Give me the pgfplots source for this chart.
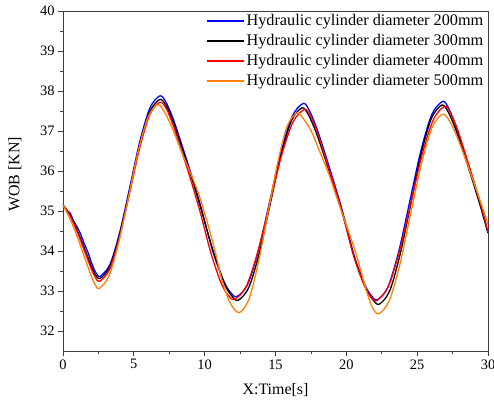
\documentclass[border=0pt]{standalone}
\usepackage{pgfplots}
\pgfplotsset{compat=1.18}
\usepackage{fontspec}
\setmainfont{Liberation Serif}
\definecolor{corange}{RGB}{255,128,0}
\definecolor{axgray}{RGB}{60,60,60}
\begin{document}
\begin{tikzpicture}
\begin{axis}[
  scale only axis,
  width=425bp, height=340bp,
  xmin=0, xmax=30, ymin=31.5, ymax=40,
  xtick={0,5,...,30}, ytick={32,33,...,40},
  minor x tick num=1, minor y tick num=1,
  tick align=outside,
  xtick pos=bottom, ytick pos=left,
  major tick length=5bp, minor tick length=3bp,
  axis line style={axgray, line width=0.9pt},
  every tick/.style={axgray, line width=0.7pt},
  /pgf/number format/assume math mode=true,
  tick label style={font=\fontsize{14.5}{16}\selectfont},
  xlabel={X:Time[s]}, ylabel={WOB [KN]},
  label style={font=\fontsize{16}{18}\selectfont},
  xlabel style={at={(axis description cs:0.5,-0.115)}, anchor=center},
  ylabel style={at={(axis description cs:-0.113,0.52)}, anchor=center, rotate=0},
  legend style={at={(1,1)}, anchor=north east, draw=none, fill=none,
    font=\fontsize{16.3}{18}\selectfont, row sep=4.2bp,
    nodes={inner sep=1.5bp}},
  legend cell align=left,
  legend image code/.code={\draw[#1, line width=1.7pt, sharp plot] (0bp,0bp) -- (37bp,0bp);},
  every axis plot/.append style={line width=1.3pt, smooth, no marks},
]
\coordinate (sw) at (rel axis cs:0,0);
\addplot[blue] coordinates {
(0,35.15)(0.25,35.02)(0.5,34.95)(0.75,34.75)(1.0,34.6)(1.25,34.42)(1.5,34.18)(1.75,33.98)(2.0,33.72)(2.25,33.5)(2.4,33.42)(2.6,33.36)
(3.31,33.66)(4.02,34.49)(4.73,35.62)(5.43,36.75)(6.14,37.58)(6.85,37.88)
(7.3,37.7)(7.8,37.28)(8.3,36.75)(9.0,35.98)(9.7,35.15)(10.54,34.03)(11.31,33.28)(11.79,32.98)(12.26,32.86)
(13.04,33.17)(13.83,34.06)(14.61,35.27)(15.39,36.48)(16.18,37.37)(16.96,37.69)
(17.39,37.51)(17.88,37.10)(18.36,36.59)(19.03,35.83)(19.71,35.02)(20.52,33.92)(21.26,33.19)(21.73,32.90)(22.18,32.78)
(22.95,33.11)(23.72,34.02)(24.49,35.26)(25.26,36.50)(26.03,37.41)(26.8,37.74)
(27.23,37.56)(27.72,37.14)(28.19,36.62)(28.86,35.87)(29.54,35.04)(30,34.45)
};
\addlegendentry{Hydraulic cylinder diameter 200mm}
\addplot[black] coordinates {
(0,35.15)(0.5,34.9)(1.0,34.52)(1.5,34.08)(2.0,33.62)(2.3,33.4)(2.6,33.31)
(3.31,33.61)(4.02,34.43)(4.73,35.55)(5.43,36.67)(6.14,37.49)(6.85,37.79)
(7.3,37.62)(7.8,37.2)(8.3,36.68)(9.0,35.92)(9.7,35.1)(10.6,34.0)(11.4,33.18)(11.9,32.88)(12.37,32.77)
(13.12,33.09)(13.87,33.97)(14.63,35.18)(15.38,36.38)(16.13,37.26)(16.88,37.58)
(17.33,37.40)(17.84,36.99)(18.34,36.48)(19.04,35.72)(19.75,34.91)(20.59,33.81)(21.36,33.08)(21.85,32.79)(22.32,32.67)
(23.06,33.00)(23.80,33.92)(24.54,35.16)(25.27,36.41)(26.01,37.32)(26.75,37.65)
(27.2,37.47)(27.7,37.06)(28.2,36.54)(28.89,35.78)(29.6,34.96)(30,34.45)
};
\addlegendentry{Hydraulic cylinder diameter 300mm}
\addplot[red] coordinates {
(0,35.15)(0.5,34.88)(1.0,34.48)(1.5,34.02)(2.0,33.55)(2.3,33.33)(2.58,33.24)
(3.29,33.54)(4.00,34.36)(4.72,35.48)(5.43,36.60)(6.14,37.42)(6.85,37.72)
(7.3,37.55)(7.8,37.12)(8.3,36.58)(9.0,35.8)(9.7,34.95)(10.4,34.0)(11.1,33.25)(11.6,32.92)(12.1,32.79)
(12.93,33.11)(13.75,33.98)(14.58,35.17)(15.40,36.35)(16.23,37.22)(17.05,37.54)
(17.47,37.37)(17.95,36.97)(18.41,36.46)(19.07,35.73)(19.73,34.94)(20.52,33.87)(21.24,33.16)(21.70,32.87)(22.14,32.76)
(22.94,33.09)(23.74,33.98)(24.55,35.19)(25.35,36.41)(26.15,37.29)(26.95,37.62)
(27.37,37.44)(27.85,37.04)(28.32,36.52)(28.97,35.78)(29.64,34.97)(30,34.47)
};
\addlegendentry{Hydraulic cylinder diameter 400mm}
\addplot[corange] coordinates {
(0,35.15)(0.5,34.8)(1.0,34.36)(1.5,33.86)(2.0,33.37)(2.3,33.14)(2.55,33.06)
(3.24,33.37)(3.93,34.21)(4.63,35.36)(5.32,36.51)(6.01,37.35)(6.7,37.66)
(7.2,37.45)(7.8,37.0)(8.4,36.45)(9.0,35.95)(9.6,35.4)(10.2,34.7)(10.73,34.0)(11.2,33.3)(11.8,32.7)(12.44,32.46)
(13.12,32.79)(13.79,33.71)(14.47,34.96)(15.15,36.20)(15.82,37.12)(16.5,37.45)
(16.98,37.3)(17.52,37.0)(18.05,36.55)(18.79,35.9)(19.55,35.1)(20.6,34.03)(21.3,33.15)(21.8,32.62)(22.28,32.43)
(23.03,32.76)(23.79,33.68)(24.54,34.93)(25.29,36.17)(26.05,37.09)(26.8,37.42)
(27.3,37.24)(27.86,36.82)(28.41,36.3)(29.18,35.53)(29.5,35.2)(30,34.67)
};
\addlegendentry{Hydraulic cylinder diameter 500mm}
\end{axis}
\pgfresetboundingbox
\path[use as bounding box] (sw) ++(-63bp,-57bp) rectangle ++(494bp,408bp);
\end{tikzpicture}
\end{document}
